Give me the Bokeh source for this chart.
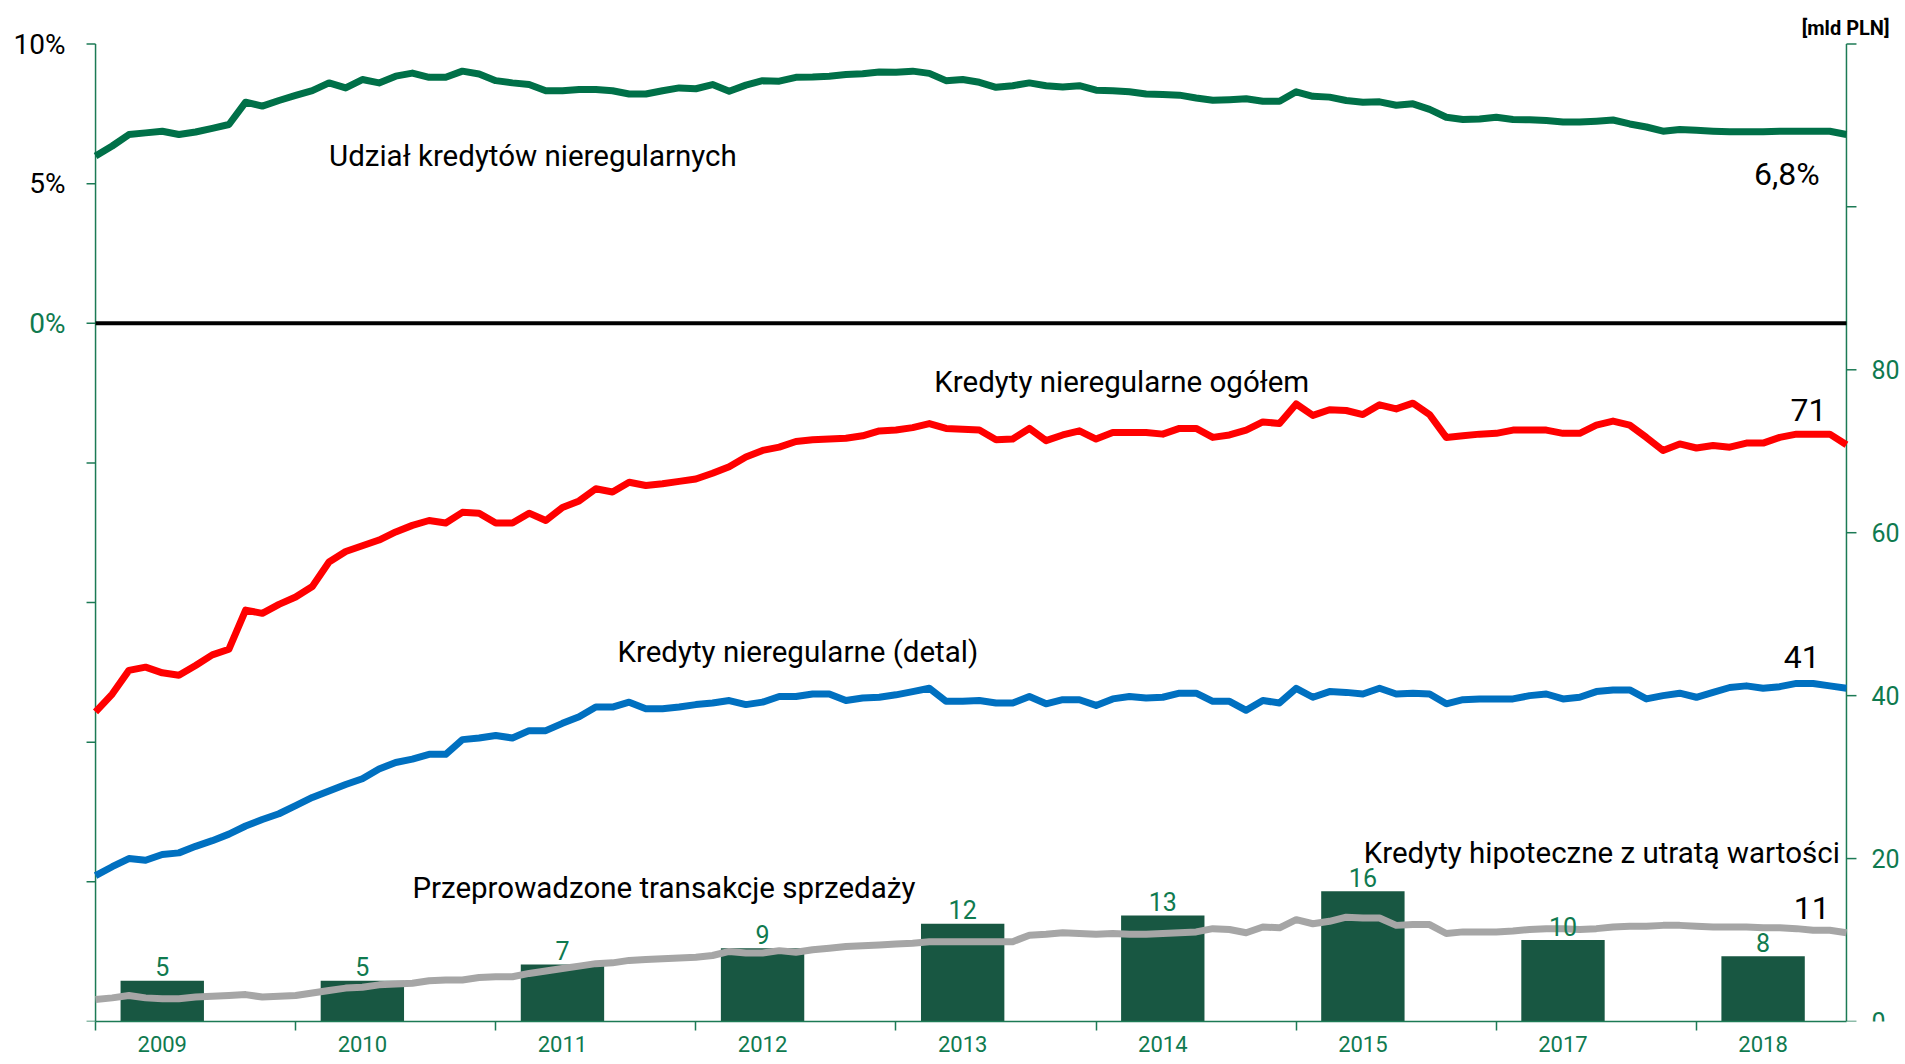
import math
from bokeh.plotting import figure
from bokeh.models import Range1d, FixedTicker
from bokeh.core.properties import value
from bokeh.embed import file_html
from bokeh.resources import INLINE

FONT = "Roboto"
GREEN_AX = "#1C7A55"
GREEN_TXT = "#0F7A4F"
GREEN_LINE = "#007048"
BAR_COL = "#185742"

# month index 0..105
months = list(range(106))

udzial = [5.99, 6.35, 6.76, 6.82, 6.88, 6.76, 6.85, 6.98, 7.12, 7.92, 7.78, 7.98, 8.16, 8.33, 8.61, 8.43,
          8.73, 8.61, 8.85, 8.96, 8.81, 8.81, 9.03, 8.93, 8.69, 8.61, 8.55, 8.33, 8.33, 8.37, 8.37, 8.33,
          8.21, 8.21, 8.33, 8.43, 8.40, 8.55, 8.31, 8.53, 8.69, 8.67, 8.81, 8.82, 8.85, 8.91, 8.94, 9.00,
          8.99, 9.03, 8.95, 8.69, 8.73, 8.63, 8.45, 8.51, 8.61, 8.51, 8.46, 8.51, 8.35, 8.33, 8.29, 8.21,
          8.19, 8.17, 8.07, 7.99, 8.01, 8.04, 7.95, 7.95, 8.29, 8.13, 8.10, 7.98, 7.92, 7.93, 7.81, 7.86,
          7.66, 7.38, 7.30, 7.32, 7.38, 7.30, 7.29, 7.26, 7.21, 7.21, 7.24, 7.28, 7.14, 7.03, 6.88, 6.94,
          6.91, 6.88, 6.86, 6.86, 6.86, 6.88, 6.88, 6.88, 6.88, 6.76]

ogolem = [38.0, 40.2, 43.1, 43.5, 42.8, 42.5, 43.7, 45.0, 45.7, 50.5, 50.1, 51.2, 52.1, 53.4, 56.4, 57.7,
          58.4, 59.1, 60.1, 60.9, 61.5, 61.2, 62.5, 62.4, 61.2, 61.2, 62.4, 61.5, 63.1, 63.9, 65.4, 65.0,
          66.2, 65.8, 66.0, 66.3, 66.6, 67.3, 68.1, 69.3, 70.1, 70.5, 71.2, 71.4, 71.5, 71.6, 71.9, 72.5,
          72.6, 72.9, 73.4, 72.8, 72.7, 72.6, 71.4, 71.5, 72.8, 71.3, 72.0, 72.5, 71.5, 72.3, 72.3, 72.3,
          72.1, 72.8, 72.8, 71.7, 72.0, 72.6, 73.6, 73.4, 75.8, 74.4, 75.1, 75.0, 74.5, 75.7, 75.2, 75.9,
          74.5, 71.7, 71.9, 72.1, 72.2, 72.6, 72.6, 72.6, 72.2, 72.2, 73.2, 73.7, 73.2, 71.7, 70.1, 70.9,
          70.4, 70.7, 70.5, 71.0, 71.0, 71.7, 72.1, 72.1, 72.1, 70.8]

detal = [17.9, 19.0, 20.0, 19.8, 20.5, 20.7, 21.5, 22.2, 23.0, 24.0, 24.8, 25.5, 26.5, 27.5, 28.3, 29.1,
         29.8, 31.0, 31.8, 32.2, 32.8, 32.8, 34.6, 34.8, 35.1, 34.8, 35.7, 35.7, 36.6, 37.4, 38.6, 38.6,
         39.2, 38.4, 38.4, 38.6, 38.9, 39.1, 39.4, 38.9, 39.2, 39.9, 39.9, 40.2, 40.2, 39.4, 39.7, 39.8,
         40.1, 40.5, 40.9, 39.3, 39.3, 39.4, 39.1, 39.1, 39.9, 39.0, 39.5, 39.5, 38.8, 39.6, 39.9, 39.7,
         39.8, 40.3, 40.3, 39.3, 39.3, 38.2, 39.4, 39.1, 40.9, 39.8, 40.5, 40.4, 40.2, 40.9, 40.2, 40.3,
         40.2, 39.0, 39.5, 39.6, 39.6, 39.6, 40.0, 40.2, 39.6, 39.8, 40.5, 40.7, 40.7, 39.6, 40.0, 40.3,
         39.8, 40.4, 41.0, 41.2, 40.9, 41.1, 41.5, 41.5, 41.2, 40.9]

hipoteczne = [2.7, 2.9, 3.2, 2.9, 2.8, 2.8, 3.0, 3.1, 3.2, 3.3, 3.0, 3.1, 3.2, 3.5, 3.8, 4.1,
              4.2, 4.5, 4.6, 4.7, 5.0, 5.1, 5.1, 5.4, 5.5, 5.5, 5.9, 6.2, 6.5, 6.8, 7.1, 7.2,
              7.5, 7.6, 7.7, 7.8, 7.9, 8.1, 8.6, 8.4, 8.4, 8.7, 8.5, 8.8, 9.0, 9.2, 9.3, 9.4,
              9.5, 9.6, 9.8, 9.8, 9.8, 9.8, 9.8, 9.8, 10.6, 10.7, 10.9, 10.8, 10.7, 10.8, 10.7, 10.7,
              10.8, 10.9, 11.0, 11.4, 11.3, 10.9, 11.6, 11.5, 12.5, 12.0, 12.3, 12.8, 12.7, 12.7, 11.8, 11.9,
              11.9, 10.8, 11.0, 11.0, 11.0, 11.1, 11.3, 11.4, 11.4, 11.3, 11.4, 11.6, 11.7, 11.7, 11.8, 11.8,
              11.7, 11.6, 11.6, 11.6, 11.5, 11.5, 11.4, 11.2, 11.2, 10.9]

years = ["2009", "2010", "2011", "2012", "2013", "2014", "2015", "2017", "2018"]
sprzedaz = [5, 5, 7, 9, 12, 13, 16, 10, 8]
bar_month = [4, 16, 28, 40, 52, 64, 76, 88, 100]
year_start = [0, 12, 24, 36, 48, 60, 72, 84, 96]

pct_ticks = [-25, -20, -15, -10, -5, 0, 5, 10]
pct_labels = ["10%", "5%", "0%"]
pct_label_vals = [10, 5, 0]
pln_ticks = [0, 20, 40, 60, 80, 100, 120]
pln_label_vals = [0, 20, 40, 60, 80]

X_END = 105      # last month on the axes
PLN_TOP = 120
PCT_LOW, PCT_TOP = -25, 10

p = figure(frame_width=1900, frame_height=1021,
           x_range=Range1d(-5.7, 108.24), y_range=Range1d(0, 125.33),
           y_axis_location=None,
           output_backend="svg", toolbar_location=None,
           min_border_top=0, min_border_left=0, min_border_right=0, min_border_bottom=42,
           background_fill_color="white", border_fill_color="white")
p.outline_line_color = None
p.grid.visible = False
p.extra_y_ranges = {"pct": Range1d(-25, 11.56)}

# bottom axis (library axis, bounded to the data span)
xa = p.xaxis[0]
xa.bounds = (0, X_END)
xa.ticker = FixedTicker(ticks=bar_month, minor_ticks=year_start)
xa.major_label_overrides = {m: y for m, y in zip(bar_month, years)}
xa.axis_line_color = GREEN_AX
xa.axis_line_width = 1.5
xa.major_tick_out = 0
xa.major_tick_in = 0
xa.minor_tick_out = 9
xa.minor_tick_in = 0
xa.minor_tick_line_color = GREEN_AX
xa.minor_tick_line_width = 1.5
xa.major_label_text_font = FONT
xa.major_label_text_font_size = "22px"
xa.major_label_text_color = GREEN_TXT
xa.major_label_standoff = 5

# left (%) axis drawn at x = 0
p.segment(x0=[0], y0=[PCT_LOW], x1=[0], y1=[PCT_TOP], y_range_name="pct",
          line_color=GREEN_AX, line_width=1.5)
p.ray(x=[0] * len(pct_ticks), y=pct_ticks, length=9, length_units="screen", angle=math.pi,
      y_range_name="pct", line_color=GREEN_AX, line_width=1.5)
p.text(x=[0] * len(pct_labels), y=pct_label_vals, text=pct_labels, y_range_name="pct",
       x_offset=-30, text_align="right", text_baseline="middle",
       text_font=value(FONT), text_font_size="28px",
       text_color=["black", "black", GREEN_TXT])

# right (mld PLN) axis drawn at x = X_END
p.segment(x0=[X_END], y0=[0], x1=[X_END], y1=[PLN_TOP], line_color=GREEN_AX, line_width=1.5)
p.ray(x=[X_END] * len(pln_ticks), y=pln_ticks, length=10, length_units="screen", angle=0,
      line_color=GREEN_AX, line_width=1.5)
p.text(x=[X_END] * len(pln_label_vals), y=pln_label_vals, text=[str(v) for v in pln_label_vals],
       x_offset=25, text_align="left", text_baseline="middle",
       text_font=value(FONT), text_font_size="25px", text_color=GREEN_TXT)
p.text(x=[107.58], y=[121.98], text=["[mld PLN]"], text_align="right", text_baseline="middle",
       text_font=value(FONT), text_font_size="20px", text_font_style="bold", text_color="black")

# zero line of % axis
p.segment(x0=[0], y0=[0], x1=[X_END], y1=[0], y_range_name="pct", line_color="black", line_width=4)

# series
p.line(months, ogolem, line_color="#FF0000", line_width=7, line_join="round")
p.line(months, detal, line_color="#0070C0", line_width=7, line_join="round")
p.vbar(x=bar_month, top=sprzedaz, width=5, fill_color=BAR_COL, line_color=None)
p.line(months, hipoteczne, line_color="#A6A6A6", line_width=7, line_join="round")
p.line(months, udzial, y_range_name="pct", line_color=GREEN_LINE, line_width=7, line_join="round")

p.text(x=bar_month, y=sprzedaz, text=[str(v) for v in sprzedaz],
       text_align="center", text_baseline="middle", y_offset=-14,
       text_font=value(FONT), text_font_size="25px", text_color=GREEN_TXT)

def lab(x, y, t, size="29.5px", align="left"):
    p.text(x=[x], y=[y], text=[t], text_align=align, text_baseline="middle",
           text_font=value(FONT), text_font_size=size, text_color="black")

lab(14.0, 106.2, "Udział kredytów nieregularnych")
lab(103.4, 104.0, "6,8%", size="32px", align="right")
lab(50.3, 78.46, "Kredyty nieregularne ogółem")
lab(103.8, 75.06, "71", size="32px", align="right")
lab(31.3, 45.34, "Kredyty nieregularne (detal)")
lab(103.4, 44.74, "41", size="32px", align="right")
lab(19.0, 16.44, "Przeprowadzone transakcje sprzedaży")
lab(104.6, 20.63, "Kredyty hipoteczne z utratą wartości", align="right")
lab(104.0, 13.96, "11", size="32px", align="right")

open("out.html", "w").write(file_html(p, INLINE))
